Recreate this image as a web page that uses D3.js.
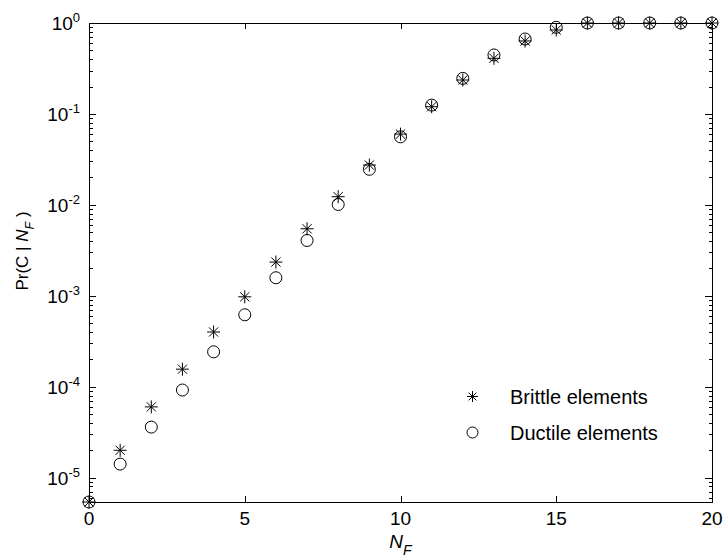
<!DOCTYPE html>
<html><head><meta charset="utf-8">
<script src="https://cdn.jsdelivr.net/npm/d3@7"></script>
<style>
body{margin:0;background:#fff;}
svg{display:block;font-family:"Liberation Sans",Arial,Helvetica,sans-serif;}
</style></head>
<body><svg id="c" width="723" height="559"></svg>
<script>
const nF = [0,1,2,3,4,5,6,7,8,9,10,11,12,13,14,15,16,17,18,19,20];
const brittle = [5.4e-6,2.0e-5,6.0e-5,1.56e-4,4.0e-4,9.75e-4,2.35e-3,5.46e-3,1.23e-2,2.74e-2,6.0e-2,1.2e-1,2.36e-1,4.09e-1,6.34e-1,8.38e-1,1,1,1,1,1];
const ductile = [5.4e-6,1.41e-5,3.6e-5,9.2e-5,2.42e-4,6.18e-4,1.58e-3,4.06e-3,1.01e-2,2.46e-2,5.6e-2,1.25e-1,2.46e-1,4.45e-1,6.67e-1,8.97e-1,1,1,1,1,1];
const xTicks = [0,5,10,15,20];
const yTickExps = [0,-1,-2,-3,-4,-5];
const seriesNames = ["Brittle elements","Ductile elements"];

const L=89, R=712, T=23, B=502;
const svg = d3.select("#c");
const x = d3.scaleLinear().domain([0,20]).range([L,R]);
const y = d3.scaleLog().domain([5.4e-6,1]).range([B,T]);

const majors = yTickExps.map(e=>Math.pow(10,e));
const minors = [];
for(let e=-6;e<0;e++){for(let m=2;m<=9;m++){const v=m*Math.pow(10,e); if(v>=5.4e-6 && v<=1) minors.push(v);}}

function styleAxis(g){g.select(".domain").remove(); g.selectAll("line").attr("stroke","#000").attr("stroke-width",1).attr("shape-rendering","crispEdges");}

svg.append("g").attr("transform",`translate(0,${B})`).call(d3.axisBottom(x).tickValues(xTicks).tickSize(-6).tickFormat("")).call(styleAxis);
svg.append("g").attr("transform",`translate(0,${T})`).call(d3.axisTop(x).tickValues(xTicks).tickSize(-6).tickFormat("")).call(styleAxis);
svg.append("g").attr("transform",`translate(${L},0)`).call(d3.axisLeft(y).tickValues(majors).tickSize(-7).tickFormat("")).call(styleAxis);
svg.append("g").attr("transform",`translate(${R},0)`).call(d3.axisRight(y).tickValues(majors).tickSize(-7).tickFormat("")).call(styleAxis);
svg.append("g").attr("transform",`translate(${L},0)`).call(d3.axisLeft(y).tickValues(minors).tickSize(-3.5).tickFormat("")).call(styleAxis);
svg.append("g").attr("transform",`translate(${R},0)`).call(d3.axisRight(y).tickValues(minors).tickSize(-3.5).tickFormat("")).call(styleAxis);

svg.append("rect").attr("x",L).attr("y",T).attr("width",R-L).attr("height",B-T)
  .attr("fill","none").attr("stroke","#000").attr("stroke-width",1).attr("shape-rendering","crispEdges");

svg.append("g").selectAll("text").data(xTicks).join("text")
  .attr("x",d=>x(d)).attr("y",525).attr("text-anchor","middle").attr("font-size",19).text(d=>d);

const yl = svg.append("g").selectAll("text").data(yTickExps).join("text")
  .attr("x",80).attr("y",d=>y(Math.pow(10,d))+7).attr("text-anchor","end").attr("font-size",19);
yl.append("tspan").text("10");
yl.append("tspan").attr("font-size",13).attr("dy",-8).text(d=>d===0?"0":"-"+(-d));

const xl = svg.append("text").attr("x",(L+R)/2).attr("y",548).attr("text-anchor","middle").attr("font-size",19).attr("font-style","italic");
xl.append("tspan").text("N");
xl.append("tspan").attr("font-size",14).attr("dy",7).text("F");

const ylab = svg.append("text").attr("transform",`translate(28,251) rotate(-90)`).attr("text-anchor","middle").attr("font-size",17);
ylab.append("tspan").text("Pr(C | ");
ylab.append("tspan").attr("font-style","italic").text("N");
ylab.append("tspan").attr("font-style","italic").attr("font-size",12.5).attr("dy",6).text("F");
ylab.append("tspan").attr("dy",-6).text(" )");

function starPath(r){const d=r*0.7071;return `M${-r},0H${r}M0,${-r}V${r}M${-d},${-d}L${d},${d}M${-d},${d}L${d},${-d}`;}
const pts = nF.map((n,i)=>({n,b:brittle[i],d:ductile[i]}));
svg.append("g").selectAll("circle").data(pts).join("circle")
  .attr("cx",d=>x(d.n)).attr("cy",d=>y(d.d)).attr("r",6)
  .attr("fill","none").attr("stroke","#000").attr("stroke-width",1);
svg.append("g").selectAll("path").data(pts).join("path")
  .attr("transform",d=>`translate(${x(d.n)},${y(d.b)})`).attr("d",starPath(6.5))
  .attr("fill","none").attr("stroke","#000").attr("stroke-width",1);

const lg = svg.append("g");
lg.append("path").attr("transform","translate(472.5,396.5)").attr("d",starPath(5.5)).attr("fill","none").attr("stroke","#000");
lg.append("circle").attr("cx",472.5).attr("cy",432.5).attr("r",5.5).attr("fill","none").attr("stroke","#000");
lg.append("text").attr("x",510).attr("y",404).attr("font-size",20).text(seriesNames[0]);
lg.append("text").attr("x",510).attr("y",439.5).attr("font-size",20).text(seriesNames[1]);
</script></body></html>
